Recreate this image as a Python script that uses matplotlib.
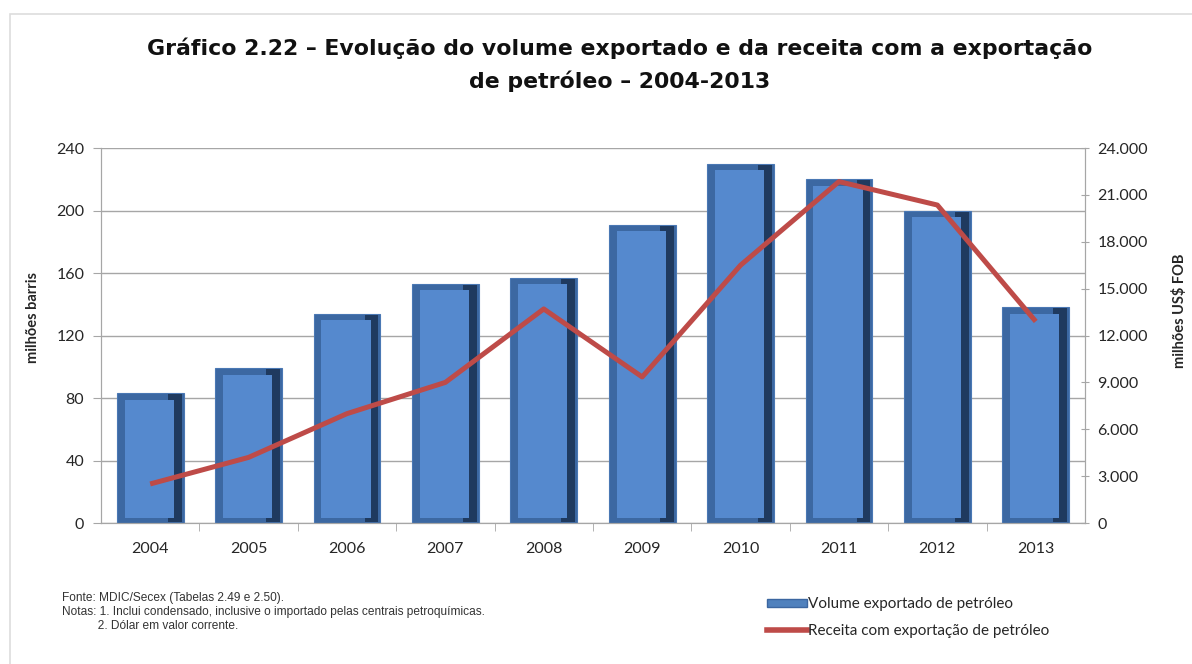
"""Evolução do volume exportado e da receita com a exportação de petróleo, 2004-2013."""

import matplotlib.pyplot as plt
from matplotlib.patches import Patch, Rectangle
from matplotlib.lines import Line2D
from matplotlib.ticker import FuncFormatter

YEARS = ["2004", "2005", "2006", "2007", "2008", "2009", "2010", "2011", "2012", "2013"]
# milhões de barris
VOLUME = [83, 99, 134, 153, 157, 191, 230, 220, 200, 138]
# milhões US$ FOB
RECEITA = [2500, 4200, 7000, 9000, 13700, 9350, 16500, 21850, 20350, 12900]

LEFT_TICKS = [0, 40, 80, 120, 160, 200, 240]
RIGHT_TICKS = [0, 3000, 6000, 9000, 12000, 15000, 18000, 21000, 24000]

BLUE = "#4F81BD"
BLUE_MID = "#3C68A2"
BLUE_DARK = "#1F3A5F"
BLUE_FACE = "#5589CE"
RED = "#BE4B48"
TXT = "#262626"

plt.rcParams["font.family"] = ["Lato", "DejaVu Sans"]

fig = plt.figure(figsize=(11.92, 6.64), dpi=100)
ax = fig.add_axes([0.0847, 0.2123, 0.8255, 0.5648])
ax2 = ax.twinx()

# light frame around the chart area
fig.patches.append(Rectangle((0.0085, -0.05), 1.1, 1.029, transform=fig.transFigure,
                             fill=False, edgecolor="#DDDDDD", linewidth=1.2))

x = list(range(len(YEARS)))
# bevelled bars: medium body, dark right bevel, lighter inner face
ax.bar(x, VOLUME, width=0.68, color=BLUE_MID, edgecolor="#4A78B4", linewidth=0.8, zorder=2)
ax.bar([i + 0.25 for i in x], [v - 1.5 for v in VOLUME], width=0.14, bottom=0.8,
       color=BLUE_DARK, linewidth=0, zorder=2.5)
ax.bar([i - 0.01 for i in x], [v - 7.5 for v in VOLUME], width=0.5, bottom=3.5,
       color=BLUE_FACE, linewidth=0, zorder=3)

ax2.plot(x, RECEITA, color=RED, linewidth=3.6, solid_capstyle="butt", zorder=4)

ax.set_xlim(-0.5, len(YEARS) - 0.5)
ax.set_ylim(0, 240)
ax2.set_ylim(0, 24000)
ax.set_yticks(LEFT_TICKS)
ax2.set_yticks(RIGHT_TICKS)
ax2.yaxis.set_major_formatter(FuncFormatter(lambda v, p: f"{int(v):,}".replace(",", ".")))
ax.set_xticks(x)
ax.set_xticklabels(YEARS)
ax.set_xticks([i + 0.5 for i in x[:-1]], minor=True)

ax.grid(axis="y", color="#A6A6A6", linewidth=1.0, zorder=0)
ax.set_axisbelow(True)
for a in (ax, ax2):
    a.spines["top"].set_visible(False)
    for s in ("left", "right", "bottom"):
        a.spines[s].set_color("#A6A6A6")
ax.tick_params(axis="x", which="major", length=0, pad=14, labelsize=11.5, colors=TXT)
ax.tick_params(axis="x", which="minor", length=6, color="#A6A6A6")
ax.tick_params(axis="y", length=6, color="#A6A6A6", labelsize=11.5, colors=TXT, pad=6)
ax2.tick_params(axis="y", length=6, color="#A6A6A6", labelsize=11.5, colors=TXT,
                direction="inout", pad=6)
ax2.set_zorder(ax.get_zorder() + 1)
ax2.patch.set_visible(False)

ax.set_ylabel("milhões barris", fontsize=10.5, fontweight="bold", color=TXT)
ax.yaxis.set_label_coords(-0.062, 0.547)
ax2.set_ylabel("milhões US$ FOB", fontsize=10.5, fontweight="bold", color=TXT)
ax2.yaxis.set_label_coords(1.0885, 0.565)

fig.text(0.52, 0.928, "Gráfico 2.22 – Evolução do volume exportado e da receita com a exportação",
         ha="center", va="center", fontsize=15.8, fontweight="bold", color="#111111",
         family=["DejaVu Sans"])
fig.text(0.52, 0.877, "de petróleo – 2004-2013", ha="center", va="center",
         fontsize=15.8, fontweight="bold", color="#111111", family=["DejaVu Sans"])

notes = ["Fonte: MDIC/Secex (Tabelas 2.49 e 2.50).",
         "Notas: 1. Inclui condensado, inclusive o importado pelas centrais petroquímicas.",
         "           2. Dólar em valor corrente."]
for i, line in enumerate(notes):
    fig.text(0.052, 1 - (598 + 14 * i) / 664, line, ha="left", va="center",
             fontsize=8.6, color="#333333", family=["Liberation Sans"])

handles = [Patch(facecolor=BLUE, edgecolor="#3B66A0"),
           Line2D([0], [0], color=RED, linewidth=4)]
labels = ["Volume exportado de petróleo", "Receita com exportação de petróleo"]
fig.legend(handles, labels, loc="center left", bbox_to_anchor=(0.632, 0.07),
           frameon=False, fontsize=11, handlelength=2.6, handleheight=0.5,
           handletextpad=0.05, labelspacing=0.8, labelcolor=TXT)

fig.savefig("out.png", dpi=100)
